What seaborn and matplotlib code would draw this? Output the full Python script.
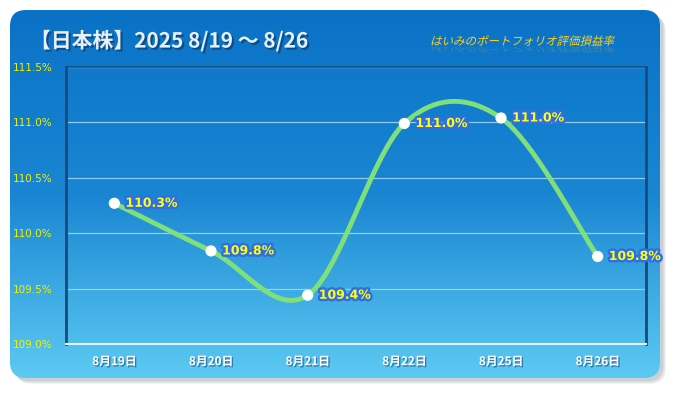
import numpy as np
import seaborn as sns
import matplotlib
matplotlib.use("Agg")
import matplotlib.pyplot as plt
import matplotlib.patheffects as pe
from matplotlib.patches import FancyBboxPatch, PathPatch
from matplotlib.colors import LinearSegmentedColormap
from matplotlib.textpath import TextPath
from matplotlib.font_manager import FontProperties
from matplotlib.transforms import Affine2D

# data
dates = ['8月19日', '8月20日', '8月21日', '8月22日', '8月25日', '8月26日']
values = [110.27, 109.84, 109.44, 110.99, 111.04, 109.79]
y_ticks = [109.0, 109.5, 110.0, 110.5, 111.0, 111.5]
title = '【日本株】2025 8/19 ～ 8/26'
subtitle = 'はいみのポートフォリオ評価損益率'

sns.set_style('white')
plt.rcParams['font.family'] = ['Noto Sans CJK JP', 'DejaVu Sans']

fig = plt.figure(figsize=(6.75, 3.93), dpi=100)
fig.patch.set_facecolor('white')

# background panel in pixel coordinates
bg = fig.add_axes([0, 0, 1, 1])
bg.axis('off')

# soft shadow
for i, a in enumerate([0.10, 0.10, 0.12, 0.14]):
    off = 6 - i
    sh = FancyBboxPatch((10 + off, 10 + off), 650, 368,
                        boxstyle='round,pad=0,rounding_size=16',
                        facecolor='#7c8a99', edgecolor='none', alpha=a, zorder=1)
    bg.add_patch(sh)

box = FancyBboxPatch((10, 10), 650, 368, boxstyle='round,pad=0,rounding_size=16',
                     facecolor='none', edgecolor='none', zorder=1)
bg.add_patch(box)
cmap = LinearSegmentedColormap.from_list('bluegrad', ['#0a72c6', '#1a86d3', '#5ccaf2'])
grad = np.linspace(0, 1, 256).reshape(-1, 1)
im = bg.imshow(grad, extent=[10, 660, 378, 10], cmap=cmap, aspect='auto', zorder=2)
im.set_clip_path(box)
bg.set_xlim(0, 675)
bg.set_ylim(393, 0)

# title
bg.text(30, 41, title, fontsize=15, fontweight='bold', color='#e8f0fa', va='center', zorder=3,
        path_effects=[pe.withSimplePatchShadow(offset=(1.5, -1.5), shadow_rgbFace='#0a3560', alpha=0.6)])

# italic subtitle with reflection, drawn as a skewed text path
fp = FontProperties(family='Noto Sans CJK JP')
tp = TextPath((0, 0), subtitle, size=11.5, prop=fp)
tr = Affine2D().skew_deg(14, 0).scale(1, -1).translate(430, 45)
bg.add_patch(PathPatch(tr.transform_path(tp), facecolor='#ffd21a', edgecolor='none', zorder=4))
tr2 = Affine2D().skew_deg(14, 0).scale(1, 0.6).translate(430, 47)
bg.add_patch(PathPatch(tr2.transform_path(tp), facecolor='#ffd21a', edgecolor='none',
                       alpha=0.2, zorder=3))

# main plot area
ax = fig.add_axes([66 / 675, 1 - 344 / 393, 580 / 675, 277 / 393])
ax.patch.set_alpha(0)

# smoothed line (Catmull-Rom through the data points)
x = np.arange(len(values), dtype=float)
y = np.array(values)
px = np.concatenate([[x[0]], x, [x[-1]]])
py = np.concatenate([[y[0]], y, [y[-1]]])
xs, ys = [], []
t = np.linspace(0, 1, 40)
for i in range(1, len(px) - 2):
    for arr, out in ((px, xs), (py, ys)):
        p0, p1, p2, p3 = arr[i - 1], arr[i], arr[i + 1], arr[i + 2]
        m1 = (p2 - p0) / 2
        m2 = (p3 - p1) / 2
        h = (2 * t**3 - 3 * t**2 + 1) * p1 + (t**3 - 2 * t**2 + t) * m1 \
            + (-2 * t**3 + 3 * t**2) * p2 + (t**3 - t**2) * m2
        out.extend(h)

sns.lineplot(x=xs, y=ys, ax=ax, color='#7fe07a', linewidth=3.5, sort=False,
             solid_capstyle='round', zorder=3)
sns.scatterplot(x=x, y=y, ax=ax, color='white', s=65, edgecolor='none', zorder=4)

for xi, yi in zip(x, y):
    ax.annotate(f'{yi:.1f}%', (xi, yi), xytext=(8, 0), textcoords='offset points',
                fontsize=9, fontweight='bold', color='#ffff1a', va='center', ha='left',
                family=['DejaVu Sans'], zorder=5,
                path_effects=[pe.withStroke(linewidth=3.5, foreground='#2f6fe0')])

ax.set_xlim(-0.5, len(dates) - 0.5)
ax.set_ylim(109.0, 111.5)
ax.set_yticks(y_ticks)
ax.set_yticklabels([f'{v:.1f}%' for v in y_ticks], color='#f2f200', fontsize=7.5,
                   family=['DejaVu Sans'])
ax.set_xticks(x)
ax.set_xticklabels(dates, color='white', fontsize=8.5, fontweight='bold')
for lab in ax.get_xticklabels():
    lab.set_path_effects([pe.withSimplePatchShadow(offset=(1, -1), shadow_rgbFace='#1a4c80', alpha=0.6)])
ax.set_xticks(np.arange(-0.5, len(dates), 1), minor=True)
ax.tick_params(axis='x', which='major', length=0, pad=8)
ax.tick_params(axis='x', which='minor', length=5, color='#e6f2fb', width=1)
ax.tick_params(axis='y', length=0, pad=10)

for v in y_ticks[1:-1]:
    ax.axhline(v, color='#a8d8f6', linewidth=0.9, alpha=0.85, zorder=1)
ax.axhline(y_ticks[-1], color='#a8d8f6', linewidth=0.9, zorder=1)

for side in ['left', 'right']:
    ax.spines[side].set_color('#174a7a')
    ax.spines[side].set_linewidth(2)
ax.spines['top'].set_color('#174a7a')
ax.spines['top'].set_linewidth(1.2)
ax.spines['bottom'].set_color('#e6f2fb')
ax.spines['bottom'].set_linewidth(1.5)
ax.set_xlabel('')
ax.set_ylabel('')

fig.savefig('out.png', dpi=100, facecolor='white')
